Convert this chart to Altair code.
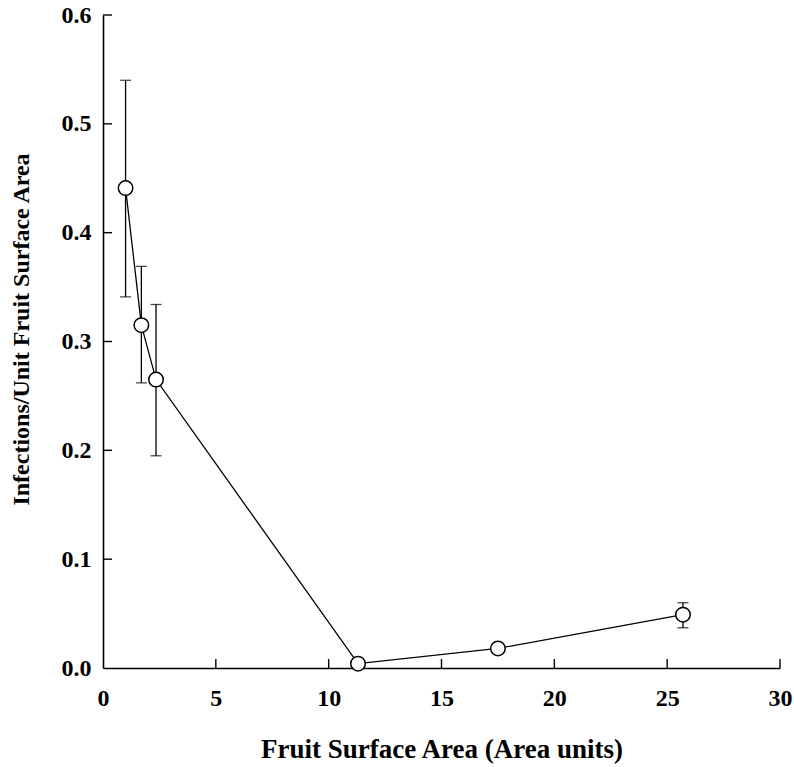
import altair as alt
import pandas as pd

# data
area = [1.0, 1.7, 2.35, 11.3, 17.5, 25.7]
infections = [0.441, 0.315, 0.265, 0.004, 0.018, 0.049]
err_low = [0.341, 0.262, 0.195, 0.004, 0.018, 0.037]
err_high = [0.540, 0.369, 0.334, 0.004, 0.018, 0.060]
has_err = [True, True, True, False, False, True]

x_ticks = [5, 10, 15, 20, 25, 30]
y_ticks = [0.1, 0.2, 0.3, 0.4, 0.5, 0.6]

df = pd.DataFrame({"x": area, "y": infections, "lo": err_low, "hi": err_high, "err": has_err})
df_err = df[df["err"]]

W, H = 677, 653
FONT = "Liberation Serif"

xs = alt.Scale(domain=[0, 30], nice=False, zero=False)
ys = alt.Scale(domain=[0, 0.6], nice=False, zero=False)

xaxis = alt.Axis(values=[0, 5, 10, 15, 20, 25, 30], ticks=False, grid=False, format="d",
                 title="Fruit Surface Area (Area units)", labelPadding=18, titlePadding=26,
                 labelFont=FONT, labelFontSize=24, labelFontWeight="bold", labelColor="black",
                 titleFont=FONT, titleFontSize=27, titleFontWeight="bold", titleColor="black",
                 domainColor="black", domainWidth=1.6, labelFlush=False)
yaxis = alt.Axis(values=[0, 0.1, 0.2, 0.3, 0.4, 0.5, 0.6], ticks=False, grid=False, format=".1f",
                 title="Infections/Unit Fruit Surface Area", labelPadding=12, titlePadding=28,
                 titleY=314,
                 labelFont=FONT, labelFontSize=24, labelFontWeight="bold", labelColor="black",
                 titleFont=FONT, titleFontSize=24, titleFontWeight="bold", titleColor="black",
                 domainColor="black", domainWidth=1.6, labelFlush=False)

base = alt.Chart(df)

line = base.mark_line(color="black", strokeWidth=1.3).encode(
    x=alt.X("x:Q", scale=xs, axis=xaxis),
    y=alt.Y("y:Q", scale=ys, axis=yaxis),
    order="x:Q",
)

bars = alt.Chart(df_err).mark_rule(color="black", strokeWidth=1.3).encode(
    x=alt.X("x:Q", scale=xs), y=alt.Y("lo:Q", scale=ys), y2="hi:Q"
)
cap_hi = alt.Chart(df_err).mark_tick(color="black", thickness=1.3, size=11, orient="horizontal").encode(
    x=alt.X("x:Q", scale=xs), y=alt.Y("hi:Q", scale=ys)
)
cap_lo = alt.Chart(df_err).mark_tick(color="black", thickness=1.3, size=11, orient="horizontal").encode(
    x=alt.X("x:Q", scale=xs), y=alt.Y("lo:Q", scale=ys)
)

pts = base.mark_point(shape="circle", filled=True, fill="white", stroke="black",
                      strokeWidth=1.5, size=210, opacity=1).encode(
    x=alt.X("x:Q", scale=xs), y=alt.Y("y:Q", scale=ys)
)

xt = alt.Chart(pd.DataFrame({"t": x_ticks})).mark_rule(color="black", strokeWidth=1.4).encode(
    x=alt.X("t:Q", scale=xs), y=alt.value(H), y2=alt.value(H - 9)
)
yt = alt.Chart(pd.DataFrame({"t": y_ticks})).mark_rule(color="black", strokeWidth=1.4).encode(
    y=alt.Y("t:Q", scale=ys), x=alt.value(0), x2=alt.value(9)
)

chart = alt.layer(line, bars, cap_hi, cap_lo, pts, xt, yt).properties(
    width=W, height=H,
    autosize=alt.AutoSizeParams(type="none"),
    padding={"left": 103, "top": 15, "right": 14, "bottom": 99},
    background="white",
).configure_view(stroke=None)

chart.save("out.html", embed_options={"renderer": "svg", "actions": False})
